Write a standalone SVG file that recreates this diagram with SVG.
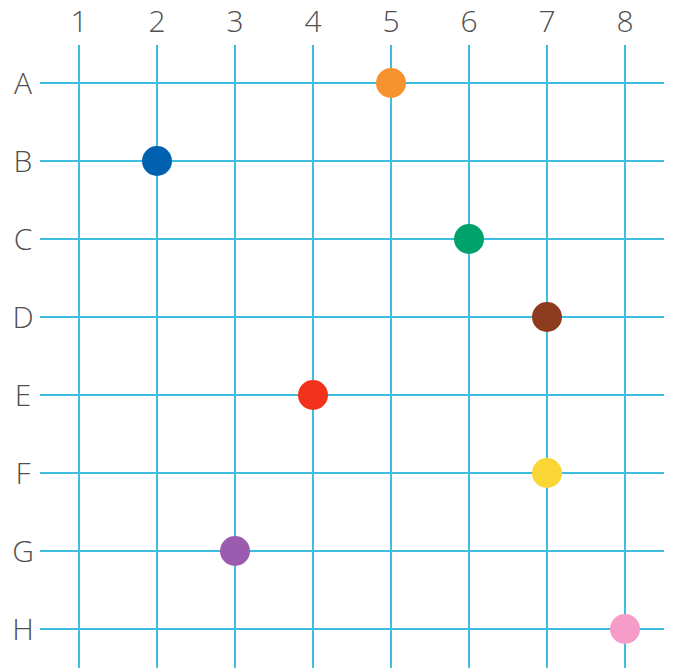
<svg xmlns="http://www.w3.org/2000/svg" width="681" height="668" viewBox="0 0 681 668">
<style>
.g{stroke:#3DBDE0;stroke-width:2;fill:none}
.t{font-family:"Open Sans","Noto Sans","Liberation Sans",sans-serif;font-size:30px;font-weight:300;fill:#505050;text-anchor:middle}
</style>
<rect width="681" height="668" fill="#fff"/>
<g id="grid">
<path class="g" d="M79 45V668M157 45V668M235 45V668M313 45V668M391 45V668M469 45V668M547 45V668M625 45V668"/>
<path class="g" d="M40 83H664M40 161H664M40 239H664M40 317H664M40 395H664M40 473H664M40 551H664M40 629H664"/>
</g>
<g id="col-labels">
<text class="t" x="79" y="32">1</text><text class="t" x="157" y="32">2</text><text class="t" x="235" y="32">3</text><text class="t" x="313" y="32">4</text><text class="t" x="391" y="32">5</text><text class="t" x="469" y="32">6</text><text class="t" x="547" y="32">7</text><text class="t" x="625" y="32">8</text>
</g>
<g id="row-labels">
<text class="t" x="23" y="94">A</text><text class="t" x="23" y="172">B</text><text class="t" x="23" y="250">C</text><text class="t" x="23" y="328">D</text><text class="t" x="23" y="406">E</text><text class="t" x="23" y="484">F</text><text class="t" x="23" y="562">G</text><text class="t" x="23" y="640">H</text>
</g>
<g id="dot-A5"><circle cx="391" cy="83" r="15" fill="#F7922F"/></g>
<g id="dot-B2"><circle cx="157" cy="161" r="15" fill="#0061B1"/></g>
<g id="dot-C6"><circle cx="469" cy="239" r="15" fill="#00A26B"/></g>
<g id="dot-D7"><circle cx="547" cy="317" r="15" fill="#8C3B1E"/></g>
<g id="dot-E4"><circle cx="313" cy="395" r="15" fill="#F2321B"/></g>
<g id="dot-F7"><circle cx="547" cy="473" r="15" fill="#F9D634"/></g>
<g id="dot-G3"><circle cx="235" cy="551" r="15" fill="#9B5CB0"/></g>
<g id="dot-H8"><circle cx="625" cy="629" r="15" fill="#F59CC8"/></g>
</svg>
